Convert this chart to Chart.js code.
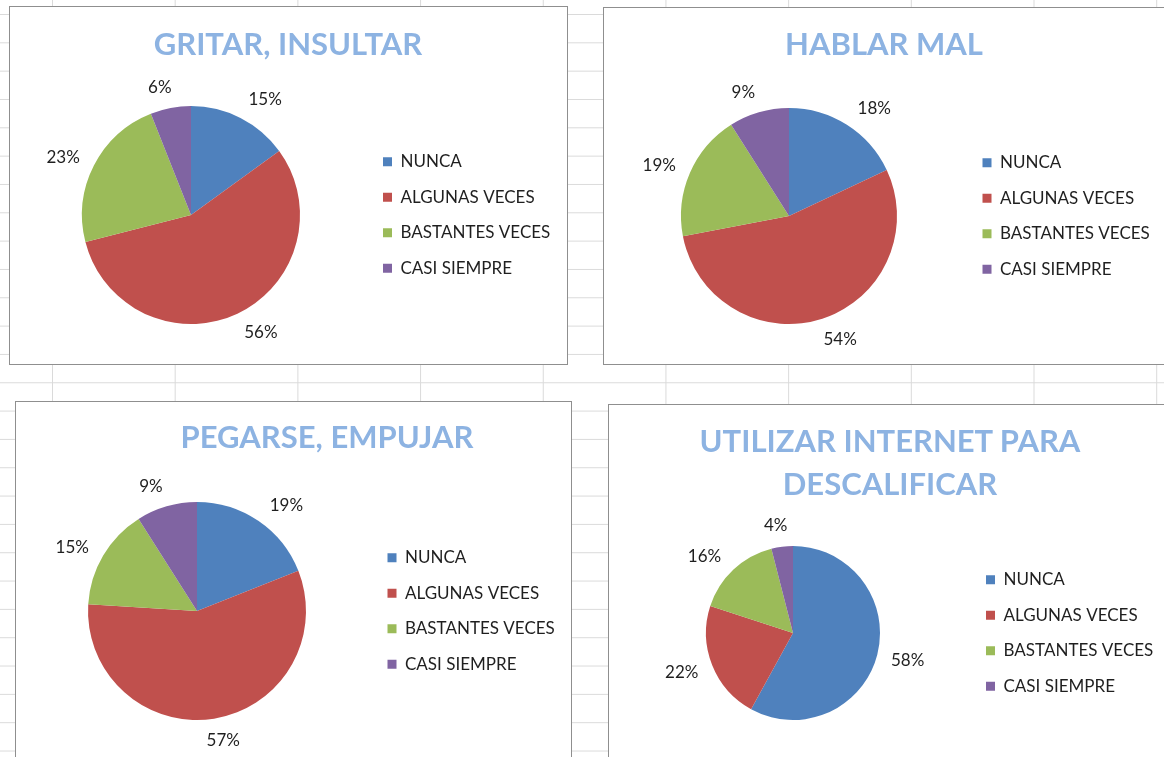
<!DOCTYPE html>
<html lang="es">
<head>
<meta charset="utf-8">
<title>Conductas - encuesta</title>
<script src="https://cdn.jsdelivr.net/npm/chart.js@4.4.1/dist/chart.umd.min.js"></script>
<style>
  html, body { margin: 0; padding: 0; }
  body {
    width: 1164px;
    height: 757px;
    overflow: hidden;
    position: relative;
    background-color: #fff;
    /* spreadsheet cell grid behind the charts */
    background-image:
      linear-gradient(to right, #dadada 1px, transparent 1px),
      linear-gradient(to bottom, #dadada 1px, transparent 1px);
    background-size: 122.7px 28.33px;
    background-position: 52px 14px;
  }
  .panel {
    position: absolute;
    box-sizing: border-box;
    background: #fff;
    border: 1px solid #8f8f8f;
    overflow: hidden;
  }
  .panel canvas { position: absolute; left: 0; top: 0; }
  .panel h2 {
    position: absolute;
    margin: 0;
    width: 600px;
    text-align: center;
    font: bold 31px Lato, sans-serif;
    line-height: 43px;
    color: #8db3e2;
    white-space: nowrap;
  }
</style>
</head>
<body>
<script>
const categories = ['NUNCA', 'ALGUNAS VECES', 'BASTANTES VECES', 'CASI SIEMPRE'];
const sliceColors = ['#4f81bd', '#c0504d', '#9bbb59', '#8064a2'];

// percentages per question
const gritarInsultar = [15, 56, 23, 6];
const hablarMal = [18, 54, 19, 9];
const pegarseEmpujar = [19, 57, 15, 9];
const internetDescalificar = [58, 22, 16, 4];

const titles = [
  ['GRITAR, INSULTAR'],
  ['HABLAR MAL'],
  ['PEGARSE, EMPUJAR'],
  ['UTILIZAR INTERNET PARA', 'DESCALIFICAR']
];

const LABEL_FONT = { family: 'Lato', size: 17 };
const LEGEND_PAD = 18.5;
const BOX = 9;

// box = outer frame on the sheet; everything else is inside the frame:
// cx = pie centre x, markerX = left of the legend squares
const panels = [
  { values: gritarInsultar, title: titles[0],
    box: { left: 9, top: 6, w: 559, h: 359 },
    pad: { top: 99, bottom: 40 }, cx: 181, markerX: 373,
    titleX: 278, titleY: 37 },
  { values: hablarMal, title: titles[1],
    box: { left: 603, top: 7, w: 564, h: 358 },
    pad: { top: 100, bottom: 40 }, cx: 185, markerX: 378.5,
    titleX: 280, titleY: 36 },
  { values: pegarseEmpujar, title: titles[2],
    box: { left: 15, top: 401, w: 557, h: 362 },
    pad: { top: 100, bottom: 42 }, cx: 181, markerX: 371.5,
    titleX: 311, titleY: 35 },
  { values: internetDescalificar, title: titles[3],
    box: { left: 608, top: 404, w: 564, h: 362 },
    pad: { top: 141, bottom: 45 }, cx: 184, markerX: 377,
    titleX: 281, titleY: 36 }
];

// percentage labels just outside each slice; like Excel's best fit they lean
// a little towards the horizontal
const outsideLabels = {
  id: 'outsideLabels',
  afterDatasetsDraw(chart) {
    const ctx = chart.ctx;
    const meta = chart.getDatasetMeta(0);
    const values = chart.data.datasets[0].data;
    ctx.save();
    ctx.font = LABEL_FONT.size + 'px ' + LABEL_FONT.family;
    ctx.fillStyle = '#1f1f1f';
    ctx.textAlign = 'center';
    ctx.textBaseline = 'middle';
    meta.data.forEach((arc, i) => {
      const { x, y, startAngle, endAngle, outerRadius } =
        arc.getProps(['x', 'y', 'startAngle', 'endAngle', 'outerRadius'], true);
      let mid = (startAngle + endAngle) / 2;
      const s = Math.cos(mid);   // right(+) / left(-)
      const c = -Math.sin(mid);  // top(+) / bottom(-)
      mid += (16 * s * c * Math.abs(c)) * Math.PI / 180;
      const text = values[i] + '%';
      const w = ctx.measureText(text).width;
      const off = 13 + Math.abs(Math.cos(mid)) * w / 2 + Math.abs(Math.sin(mid)) * 7;
      const rr = outerRadius + off;
      ctx.fillText(text, x + Math.cos(mid) * rr, y + Math.sin(mid) * rr);
    });
    ctx.restore();
  }
};

panels.forEach(p => {
  const div = document.createElement('div');
  div.className = 'panel';
  div.style.left = p.box.left + 'px';
  div.style.top = p.box.top + 'px';
  div.style.width = p.box.w + 'px';
  div.style.height = p.box.h + 'px';

  const W = p.box.w - 2;
  const H = p.box.h - 2;

  const canvas = document.createElement('canvas');
  canvas.width = W;
  canvas.height = H;
  div.appendChild(canvas);

  const h2 = document.createElement('h2');
  h2.innerHTML = p.title.join('<br>');
  h2.style.left = (p.titleX - 300) + 'px';
  h2.style.top = (p.titleY - 22.4) + 'px';
  div.appendChild(h2);

  document.body.appendChild(div);

  const chart = new Chart(canvas, {
    type: 'pie',
    data: {
      labels: categories,
      datasets: [{
        data: p.values,
        backgroundColor: sliceColors,
        borderWidth: 0
      }]
    },
    options: {
      responsive: false,
      animation: false,
      devicePixelRatio: 1,
      layout: {
        padding: { left: 0, right: 0, top: p.pad.top, bottom: p.pad.bottom }
      },
      plugins: {
        title: { display: false },
        tooltip: { enabled: false },
        legend: {
          position: 'right',
          align: 'center',
          labels: {
            boxWidth: BOX,
            boxHeight: BOX,
            padding: LEGEND_PAD,
            color: '#1f1f1f',
            font: LABEL_FONT
          }
        }
      }
    },
    plugins: [outsideLabels]
  });

  // slide the legend so its squares start at markerX, then centre the pie at cx
  const lg = chart.legend;
  const legendLeft = lg.left + (p.markerX - lg.legendHitBoxes[0].left);
  chart.options.layout.padding = {
    left: 2 * p.cx - legendLeft,
    right: W - legendLeft - lg.width,
    top: p.pad.top,
    bottom: p.pad.bottom
  };
  chart.update();
});
</script>
</body>
</html>
